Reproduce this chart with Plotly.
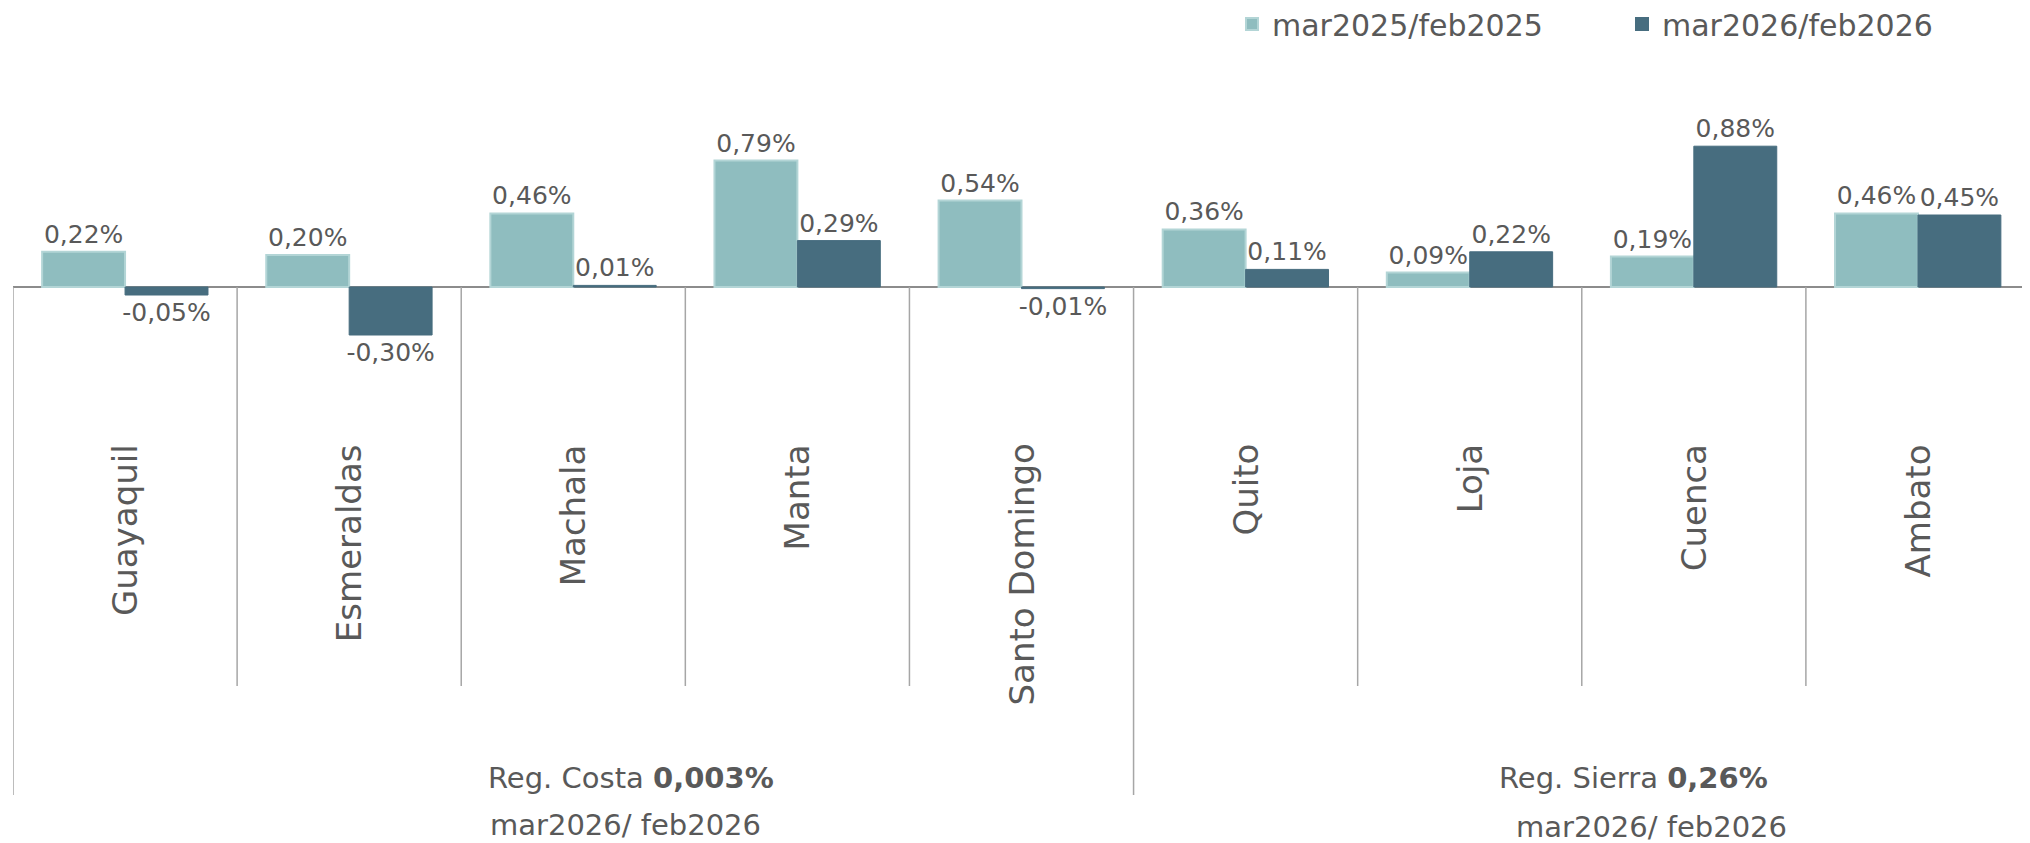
import plotly.graph_objects as go

# ---- data ----
cities = ["Guayaquil", "Esmeraldas", "Machala", "Manta", "Santo Domingo",
          "Quito", "Loja", "Cuenca", "Ambato"]
series_2025_name = "mar2025/feb2025"
series_2026_name = "mar2026/feb2026"
values_2025 = [0.22, 0.20, 0.46, 0.79, 0.54, 0.36, 0.09, 0.19, 0.46]
values_2026 = [-0.05, -0.30, 0.01, 0.29, -0.01, 0.11, 0.22, 0.88, 0.45]
region_names = ["Reg. Costa", "Reg. Sierra"]
region_values = ["0,003%", "0,26%"]
region_period = ["mar2026/ feb2026", "mar2026/ feb2026"]
region_sizes = [5, 4]

# ---- style / layout (page pixels; the page body adds an 8px offset) ----
PAGE_W, PAGE_H = 2030, 843
OFF = 8
W, H = PAGE_W - OFF, PAGE_H - OFF
ML = 13 - OFF
ZERO_PX = 287 - OFF
PX_PER_UNIT = 160
FONT = "DejaVu Sans"
TXT = "#595959"
LIGHT = "#8fbdbf"
LIGHT_EDGE = "#b3d5d6"
DARK = "#476d7f"
GRID = "#a6a6a6"


def fmt(v):
    return f"{v:.2f}".replace(".", ",") + "%"


def px_x(p):
    return (p - OFF - ML) / (W - ML)


def px_y(p):
    return 1 - (p - OFF) / H


def px_val(p):
    return (ZERO_PX - (p - OFF)) / PX_PER_UNIT


y_top = ZERO_PX / PX_PER_UNIT
y_bot = -(H - ZERO_PX) / PX_PER_UNIT

fig = go.Figure()
fig.add_trace(go.Bar(
    x=cities, y=values_2025, name=series_2025_name,
    marker=dict(color=LIGHT, line=dict(color=LIGHT_EDGE, width=2)),
    text=[fmt(v) for v in values_2025], textposition="outside",
    textfont=dict(family=FONT, size=25, color=TXT),
    constraintext="none", cliponaxis=False,
))
fig.add_trace(go.Bar(
    x=cities, y=values_2026, name=series_2026_name,
    marker=dict(color=DARK, line=dict(color=DARK, width=1)),
    text=[fmt(v) for v in values_2026], textposition="outside",
    textfont=dict(family=FONT, size=25, color=TXT),
    constraintext="none", cliponaxis=False,
))

# separators between categories
inner_end = px_val(686)
outer_end = px_val(795)
shapes = []
region_edges = [-0.5, region_sizes[0] - 0.5]
for i in range(len(cities)):
    xb = i - 0.5
    y1 = outer_end if xb in region_edges else inner_end
    shapes.append(dict(type="line", xref="x", yref="y", x0=xb, x1=xb,
                       y0=0, y1=y1, line=dict(color=GRID, width=1.5)))

annotations = []
for c in cities:
    annotations.append(dict(
        x=c, xref="x", y=px_val(442), yref="y",
        text=c, textangle=-90, showarrow=False, yanchor="top", xanchor="center",
        font=dict(family=FONT, size=34, color=TXT)))

region_x_name = [631, 1633]
region_x_period = [625, 1651]
region_y_name = [778, 778]
region_y_period = [825, 827]
for k in range(2):
    annotations.append(dict(
        x=px_x(region_x_name[k]), xref="paper", y=px_y(region_y_name[k]), yref="paper",
        text=f"{region_names[k]} <b>{region_values[k]}</b>", showarrow=False,
        xanchor="center", yanchor="middle",
        font=dict(family=FONT, size=29, color=TXT)))
    annotations.append(dict(
        x=px_x(region_x_period[k]), xref="paper", y=px_y(region_y_period[k]), yref="paper",
        text=region_period[k], showarrow=False,
        xanchor="center", yanchor="middle",
        font=dict(family=FONT, size=29, color=TXT)))

fig.update_layout(
    width=W, height=H,
    margin=dict(l=ML, r=0, t=0, b=0, pad=0, autoexpand=False),
    paper_bgcolor="white", plot_bgcolor="white",
    barmode="group", bargap=0.26, bargroupgap=0,
    showlegend=True,
    legend=dict(orientation="h", xref="paper", yref="paper",
                x=px_x(1232), y=px_y(-2), xanchor="left", yanchor="top",
                font=dict(family=FONT, size=30, color=TXT),
                entrywidthmode="pixels", entrywidth=345,
                bgcolor="rgba(0,0,0,0)", itemsizing="constant"),
    xaxis=dict(range=[-0.5, len(cities) - 0.5], showticklabels=False, showgrid=False,
               zeroline=False, showline=False, ticks="", fixedrange=True),
    yaxis=dict(range=[y_bot, y_top], showticklabels=False, showgrid=False,
               zeroline=True, zerolinecolor="#8c8c8c", zerolinewidth=2,
               showline=False, ticks="", fixedrange=True),
    shapes=shapes, annotations=annotations,
)

fig.write_html("out.html")
